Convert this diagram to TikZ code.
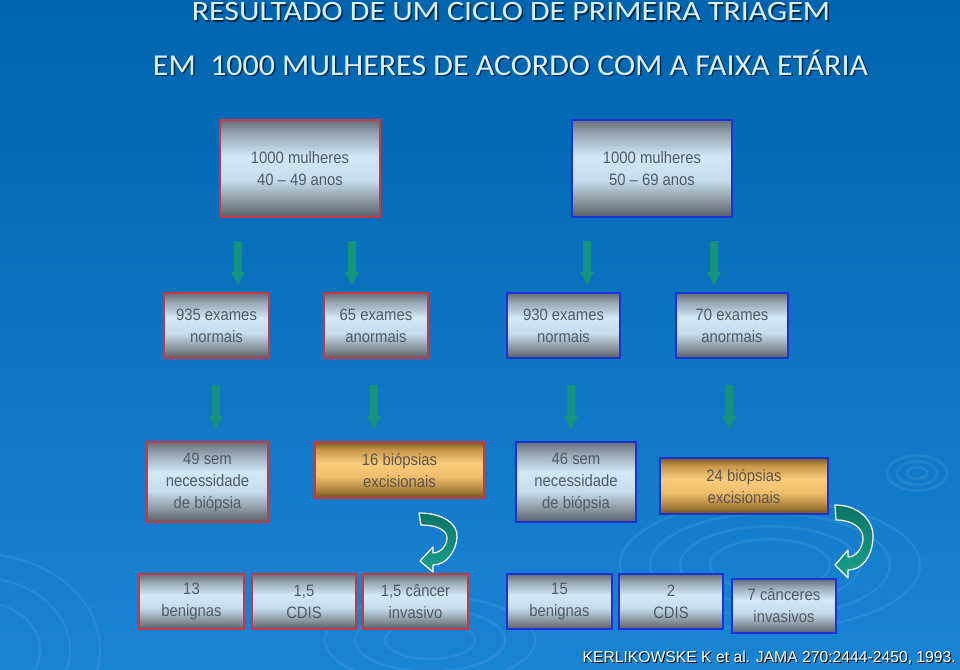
\documentclass[tikz,border=0pt]{standalone}
\usepackage{fontspec}
\setmainfont{Liberation Sans}
\newfontfamily\titlefont{Carlito}
\newfontfamily\boxfont[FakeStretch=0.9]{Liberation Sans}
\usetikzlibrary{calc}
\definecolor{bgtop}{HTML}{0064AE}
\definecolor{bgbot}{HTML}{1A84D4}
\definecolor{mtop}{HTML}{656E77}
\definecolor{mhigh}{HTML}{96A5B2}
\definecolor{mlight2}{HTML}{D2E8F8}
\definecolor{mlight}{HTML}{C6DCEC}
\definecolor{mlow}{HTML}{7E8891}
\definecolor{mbot}{HTML}{575D64}
\definecolor{gtop}{HTML}{7A5A26}
\definecolor{ghigh}{HTML}{C8984A}
\definecolor{glight2}{HTML}{F8CC7C}
\definecolor{glight}{HTML}{EEBE6C}
\definecolor{glow}{HTML}{A47C3A}
\definecolor{gbot}{HTML}{6C4E1E}
\definecolor{redborder}{HTML}{C43848}
\definecolor{blueborder}{HTML}{1E30D8}
\definecolor{boxtext}{HTML}{505A64}
\definecolor{goldtext}{HTML}{5E5448}
\definecolor{arrowteal}{HTML}{16937F}
\definecolor{curvetop}{HTML}{0B7466}
\definecolor{curvebot}{HTML}{1BA08C}
\definecolor{titlecol}{HTML}{DAF0FF}
\definecolor{shadowcol}{HTML}{082848}
\pgfdeclareverticalshading{metal}{100bp}{color(0bp)=(mbot); color(25bp)=(mbot); color(31bp)=(mlow); color(44bp)=(mlight); color(56bp)=(mlight2); color(68bp)=(mhigh); color(75bp)=(mtop); color(100bp)=(mtop)}
\pgfdeclareverticalshading{gold}{100bp}{color(0bp)=(gbot); color(25bp)=(gbot); color(31bp)=(glow); color(44bp)=(glight); color(56bp)=(glight2); color(68bp)=(ghigh); color(75bp)=(gtop); color(100bp)=(gtop)}
\tikzset{
  boxbase/.style={rectangle, line width=2pt, inner sep=0pt, align=center,
    font=\boxfont\fontsize{16.5}{22}\selectfont},
  metalred/.style={boxbase, shading=metal, draw=redborder, text=boxtext},
  metalblue/.style={boxbase, shading=metal, draw=blueborder, text=boxtext},
  goldred/.style={boxbase, shading=gold, draw=redborder, text=goldtext},
  goldblue/.style={boxbase, shading=gold, draw=blueborder, text=goldtext},
  ripple/.style={draw=white, draw opacity=0.07, line width=2.5pt},
  curvearrow/.style={top color=curvetop, bottom color=curvebot, draw=white, line width=1.2pt, line join=round},
  blockdown/.pic={\fill[arrowteal] (-4,0) -- (4,0) -- (4,31) -- (7,31) -- (0,44) -- (-7,31) -- (-4,31) -- cycle;},
  titletext/.style={anchor=base, inner sep=0pt, text=titlecol},
  titleshadow/.style={anchor=base, inner sep=0pt, text=shadowcol}
}
\newcommand{\lineone}{\scalebox{1}[0.88]{\resizebox{638pt}{!}{\titlefont RESULTADO DE UM CICLO DE PRIMEIRA TRIAGEM}}}
\newcommand{\linetwo}{\scalebox{1}[0.95]{\resizebox{715pt}{!}{\titlefont EM\ \ 1000 MULHERES DE ACORDO COM A FAIXA ETÁRIA}}}
\begin{document}
\begin{tikzpicture}[x=1pt,y=-1pt]
\useasboundingbox (0,0) rectangle (960,669);
\shade[top color=bgtop, bottom color=bgbot] (0,0) rectangle (960,669);
% ripples
\foreach \r in {60,90,120,150}{\draw[ripple] (770,565) ellipse ({\r} and {0.43*\r});}
\foreach \r in {45,75,105}{\draw[ripple] (430,640) ellipse ({\r} and {0.42*\r});}
\foreach \r in {10,20,30}{\draw[ripple] (917,473) ellipse ({\r} and {0.58*\r});}
\foreach \r in {60,90,120}{\draw[ripple] (-20,650) ellipse ({\r} and {0.8*\r});}

% title
\node[titleshadow] (s1) at (512.5,22.5) {\lineone};
\node[titletext] (h1) at (511,21) {\lineone};
\node[titleshadow] (s2) at (512,76.5) {\linetwo};
\node[titletext] (h2) at (510.5,75) {\linetwo};

% row 1
\node[metalred, minimum width=160pt, minimum height=97pt] (t1) at (300,168.5) {1000 mulheres\\40 – 49 anos};
\node[metalblue, minimum width=160pt, minimum height=97pt] (t2) at (652,168.5) {1000 mulheres\\50 – 69 anos};

% arrows row 1
\pic at (238,241) {blockdown};
\pic at (352,241) {blockdown};
\pic at (587,241) {blockdown};
\pic at (714,241) {blockdown};

% row 2
\node[metalred, minimum width=105pt, minimum height=65pt] (a1) at (216.5,325.5) {935 exames\\normais};
\node[metalred, minimum width=104pt, minimum height=65pt] (a2) at (376,325.5) {65 exames\\anormais};
\node[metalblue, minimum width=113pt, minimum height=65pt] (a3) at (563.5,325.5) {930 exames\\normais};
\node[metalblue, minimum width=112pt, minimum height=65pt] (a4) at (732,325.5) {70 exames\\anormais};

% arrows row 2
\pic at (216,385) {blockdown};
\pic at (374,385) {blockdown};
\pic at (571,385) {blockdown};
\pic at (729,385) {blockdown};

% row 3
\node[metalred, minimum width=121pt, minimum height=80pt] (b1) at (207.5,482) {49 sem\\necessidade\\de biópsia};
\node[goldred, minimum width=169pt, minimum height=56pt] (b2) at (399.5,470) {16 biópsias\\excisionais};
\node[metalblue, minimum width=120pt, minimum height=80pt] (b3) at (576,482) {46 sem\\necessidade\\de biópsia};
\node[goldblue, minimum width=168pt, minimum height=56pt] (b4) at (744,486) {24 biópsias\\excisionais};

% curved arrows
\path[curvearrow] (419,513) .. controls (443,513) and (458,524) .. (457,537)
  .. controls (456,552) and (446,565) .. (433,565) -- (433,572) -- (420,561) -- (433,547) -- (433,553)
  .. controls (440,553) and (447,546) .. (447,538) .. controls (447,530) and (437,525) .. (421,525) -- cycle;
\path[curvearrow] (835,505) .. controls (858,505) and (874,520) .. (873,538)
  .. controls (872,557) and (862,570) .. (848,570) -- (848,578) -- (835,565) -- (848,550) -- (848,557)
  .. controls (856,557) and (863,548) .. (863,538) .. controls (863,528) and (852,520) .. (836,520) -- cycle;

% row 4
\node[metalred, minimum width=105pt, minimum height=55pt] (c1) at (191.5,601.5) {13\\benignas};
\node[metalred, minimum width=104pt, minimum height=55pt] (c2) at (304,601.5) {1,5\\CDIS};
\node[metalred, minimum width=105pt, minimum height=55pt] (c3) at (415.5,601.5) {1,5 câncer\\invasivo};
\node[metalblue, minimum width=105pt, minimum height=55pt] (c4) at (559.5,601.5) {15\\benignas};
\node[metalblue, minimum width=104pt, minimum height=55pt] (c5) at (671,601.5) {2\\CDIS};
\node[metalblue, minimum width=104pt, minimum height=54pt] (c6) at (784,606) {7 cânceres\\invasivos};

% reference
\node[anchor=base east, inner sep=0pt, text=black, font=\fontsize{15.7}{18}\selectfont] (refs) at (957,663.2) {KERLIKOWSKE K et al. JAMA 270:2444-2450, 1993.};
\node[anchor=base east, inner sep=0pt, text=white, font=\fontsize{15.7}{18}\selectfont] (ref) at (956,662) {KERLIKOWSKE K et al. JAMA 270:2444-2450, 1993.};
\end{tikzpicture}
\end{document}
